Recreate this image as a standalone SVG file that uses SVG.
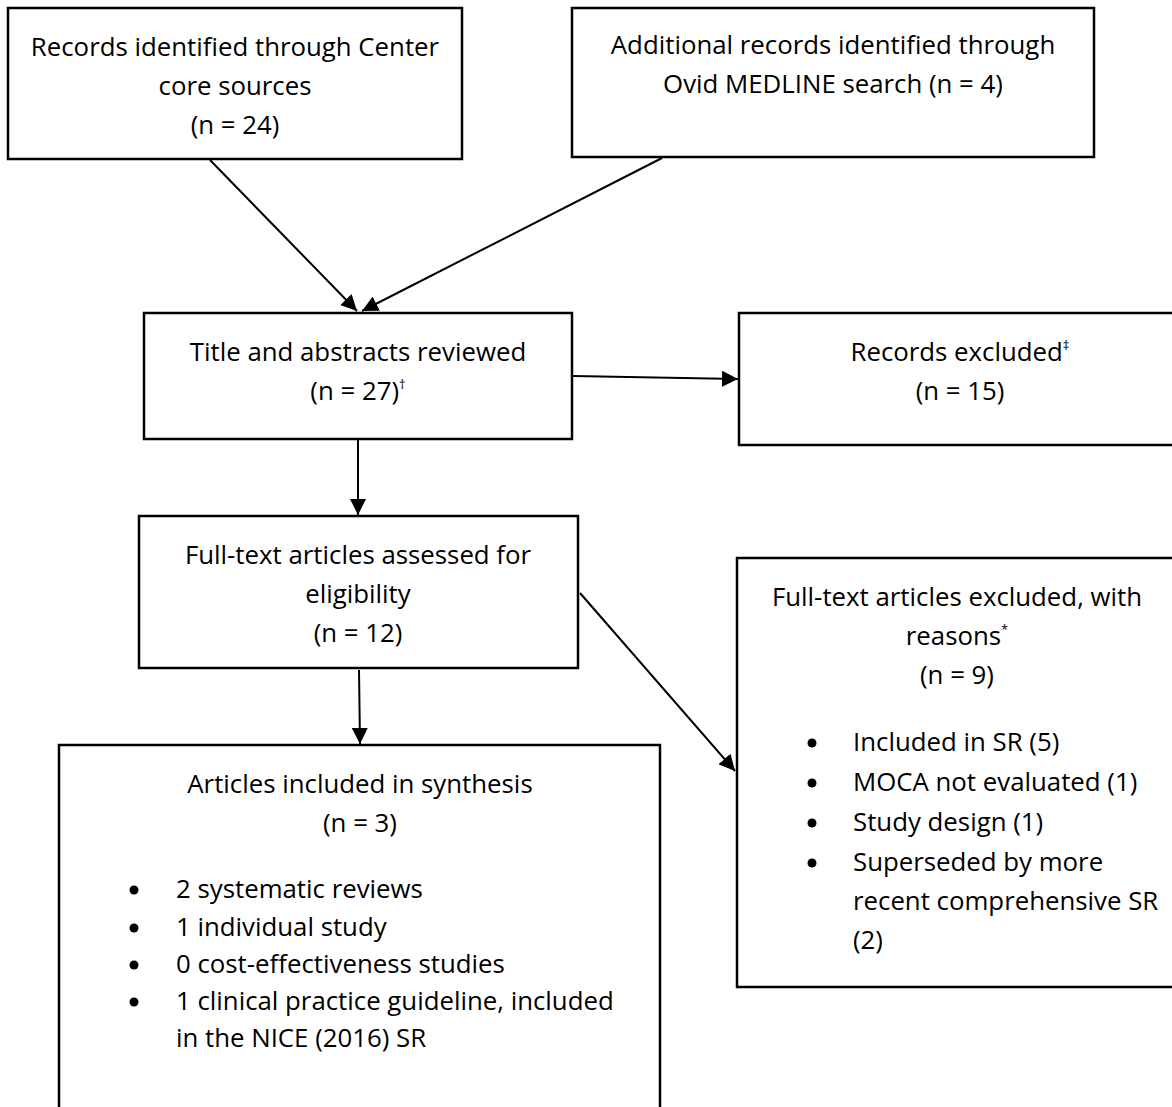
<svg xmlns="http://www.w3.org/2000/svg" width="1172" height="1107" viewBox="0 0 1172 1107">
<style>
.box{fill:#fff;stroke:#000;stroke-width:2.5}
text{font-family:"Open Sans","Liberation Sans",Arial,sans-serif;font-size:25.8px;font-weight:500;fill:#000}
.c{text-anchor:middle}
.sup{font-size:13px}
.b{fill:#000}
.ln{stroke:#000;stroke-width:2;fill:none}
</style>
<defs>
<marker id="ah2" viewBox="0 0 10 10" refX="10" refY="5" markerWidth="16" markerHeight="16" markerUnits="userSpaceOnUse" orient="auto">
<path d="M0,0 L10,5 L0,10 z" fill="#000"/>
</marker>
</defs>
<rect width="1172" height="1107" fill="#fff"/>
<g id="connectors">
<line class="ln" x1="210" y1="160" x2="357" y2="311" marker-end="url(#ah2)"/>
<line class="ln" x1="662" y1="158" x2="362" y2="311" marker-end="url(#ah2)"/>
<line class="ln" x1="573" y1="376" x2="738" y2="379" marker-end="url(#ah2)"/>
<line class="ln" x1="358" y1="440" x2="358" y2="515" marker-end="url(#ah2)"/>
<line class="ln" x1="580" y1="593" x2="735" y2="771" marker-end="url(#ah2)"/>
<line class="ln" x1="359" y1="670" x2="360" y2="744" marker-end="url(#ah2)"/>
</g>
<g id="n1">
<rect class="box" x="8" y="8" width="454" height="151"/>
<text class="c" x="235" y="56">Records identified through Center</text>
<text class="c" x="235" y="95">core sources</text>
<text class="c" x="235" y="134">(n = 24)</text>
</g>
<g id="n2">
<rect class="box" x="572" y="8" width="522" height="149"/>
<text class="c" x="833" y="54">Additional records identified through</text>
<text class="c" x="833" y="93">Ovid MEDLINE search (n = 4)</text>
</g>
<g id="n3">
<rect class="box" x="144" y="313" width="428" height="126"/>
<text class="c" x="358" y="361">Title and abstracts reviewed</text>
<text class="c" x="358" y="400">(n = 27)<tspan class="sup" dy="-11">†</tspan></text>
</g>
<g id="n4">
<rect class="box" x="739" y="313" width="460" height="132"/>
<text class="c" x="960" y="361">Records excluded<tspan class="sup" dy="-11">‡</tspan></text>
<text class="c" x="960" y="400">(n = 15)</text>
</g>
<g id="n5">
<rect class="box" x="139" y="516" width="439" height="152"/>
<text class="c" x="358" y="564">Full-text articles assessed for</text>
<text class="c" x="358" y="603">eligibility</text>
<text class="c" x="358" y="642">(n = 12)</text>
</g>
<g id="n6">
<rect class="box" x="737" y="558" width="460" height="429"/>
<text class="c" x="957" y="606">Full-text articles excluded, with</text>
<text class="c" x="957" y="645">reasons<tspan class="sup" dy="-11">*</tspan></text>
<text class="c" x="957" y="684">(n = 9)</text>
<circle class="b" cx="812" cy="743" r="4.5"/><text x="853" y="751">Included in SR (5)</text>
<circle class="b" cx="812" cy="783" r="4.5"/><text x="853" y="791">MOCA not evaluated (1)</text>
<circle class="b" cx="812" cy="823" r="4.5"/><text x="853" y="831">Study design (1)</text>
<circle class="b" cx="812" cy="863" r="4.5"/><text x="853" y="871">Superseded by more</text>
<text x="853" y="910">recent comprehensive SR</text>
<text x="853" y="949">(2)</text>
</g>
<g id="n7">
<rect class="box" x="59" y="745" width="601" height="380"/>
<text class="c" x="360" y="793">Articles included in synthesis</text>
<text class="c" x="360" y="832">(n = 3)</text>
<circle class="b" cx="134" cy="890" r="4.5"/><text x="176" y="898">2 systematic reviews</text>
<circle class="b" cx="134" cy="928" r="4.5"/><text x="176" y="936">1 individual study</text>
<circle class="b" cx="134" cy="965" r="4.5"/><text x="176" y="973">0 cost-effectiveness studies</text>
<circle class="b" cx="134" cy="1002" r="4.5"/><text x="176" y="1010">1 clinical practice guideline, included</text>
<text x="176" y="1047">in the NICE (2016) SR</text>
</g>
</svg>
